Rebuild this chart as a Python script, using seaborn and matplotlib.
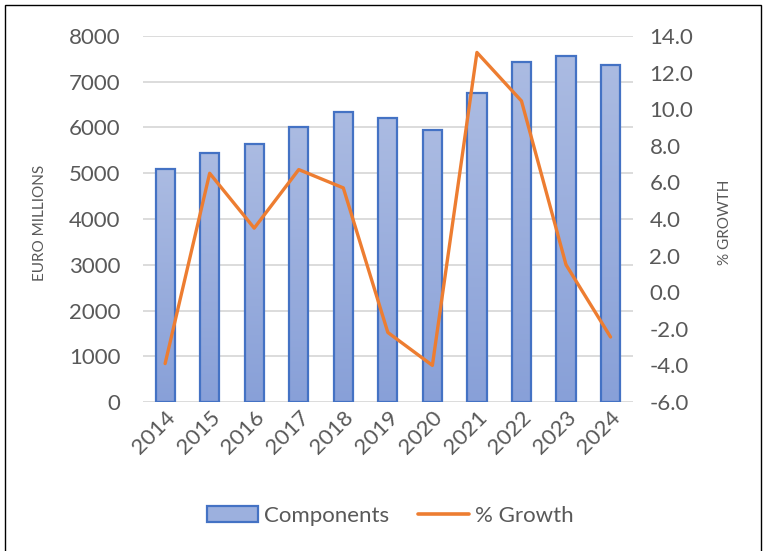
import numpy as np
import pandas as pd
import matplotlib
matplotlib.use('Agg')
import matplotlib.pyplot as plt
from matplotlib.patches import Patch, Rectangle
from matplotlib.lines import Line2D
from matplotlib.colors import LinearSegmentedColormap
import seaborn as sns

# values
years = ['2014', '2015', '2016', '2017', '2018', '2019', '2020', '2021', '2022', '2023', '2024']
components = [5100, 5440, 5630, 6000, 6340, 6200, 5950, 6750, 7430, 7560, 7360]
growth = [-3.9, 6.5, 3.5, 6.7, 5.7, -2.2, -4.0, 13.1, 10.45, 1.5, -2.45]

sns.set_style('white')
plt.rcParams['font.family'] = ['Lato', 'DejaVu Sans']

grey = '#595959'
bar_edge = '#4472c4'
orange = '#ed7d31'

df = pd.DataFrame({'Year': years, 'Components': components, 'Growth': growth})
df['pos'] = np.arange(len(df))

fig = plt.figure(figsize=(7.68, 5.51), dpi=100)
ax = fig.add_axes([0.186, 0.2704, 0.638, 0.6643])

sns.barplot(data=df, x='Year', y='Components', ax=ax, width=0.43,
            color='#9cb0de', edgecolor=bar_edge, linewidth=1.6, zorder=3)

# gradient fill for the bars, light at top and darker at bottom
cmap = LinearSegmentedColormap.from_list('barfill', ['#88a0d8', '#abbbe2'])
grad = np.linspace(0, 1, 256).reshape(-1, 1)
for p in list(ax.patches):
    x0, y0 = p.get_x(), p.get_y()
    w, h = p.get_width(), p.get_height()
    im = ax.imshow(grad, cmap=cmap, origin='lower', aspect='auto',
                   extent=[x0, x0 + w, y0, y0 + h], zorder=2.5)
    im.set_clip_path(p)
    p.set_facecolor('none')

ax.set_xlim(-0.5, len(years) - 0.5)
ax.set_ylim(0, 8000)
ax.set_yticks(np.arange(0, 8001, 1000))
ax.yaxis.grid(True, color='#d9d9d9', linewidth=1.3, zorder=0)
ax.set_axisbelow(True)
for s in ax.spines.values():
    s.set_visible(False)
ax.tick_params(axis='y', length=0, pad=16, labelsize=16, labelcolor=grey)
ax.tick_params(axis='x', length=0, pad=4, labelsize=16, labelcolor=grey)
for lbl in ax.get_xticklabels():
    lbl.set_rotation(45)
    lbl.set_ha('right')
    lbl.set_rotation_mode('anchor')
ax.set_xlabel('')
ax.set_ylabel('EURO MILLIONS', fontsize=11, color=grey)
ax.yaxis.set_label_coords(-0.196, 0.49)

ax2 = ax.twinx()
sns.lineplot(data=df, x='pos', y='Growth', ax=ax2, color=orange, linewidth=2.4, zorder=4)
ax2.set_ylim(-6, 14)
ax2.set_yticks(np.arange(-6, 14.1, 2))
ax2.set_yticklabels([f'{v:.1f}' for v in np.arange(-6, 14.1, 2)])
for s in ax2.spines.values():
    s.set_visible(False)
ax2.tick_params(axis='y', length=0, pad=12, labelsize=16, labelcolor=grey)
ax2.set_xlabel('')
ax2.set_ylabel('% GROWTH', fontsize=11, color=grey, rotation=90)
ax2.yaxis.set_label_coords(1.173, 0.49)
ax2.set_xlim(-0.5, len(years) - 0.5)

handles = [Patch(facecolor='#9cb0de', edgecolor=bar_edge, linewidth=1.6),
           Line2D([0], [0], color=orange, linewidth=2.6)]
fig.legend(handles, ['Components', '% Growth'], loc='center', bbox_to_anchor=(0.508, 0.064),
           ncol=2, frameon=False, fontsize=16, labelcolor=grey, handlelength=2.3,
           handletextpad=0.27, columnspacing=1.3)

fig.patches.append(Rectangle((5 / 768, -0.02), 756 / 768, 1.011, transform=fig.transFigure,
                             fill=False, edgecolor='black', linewidth=1.0))

fig.savefig('out.png', dpi=100)
